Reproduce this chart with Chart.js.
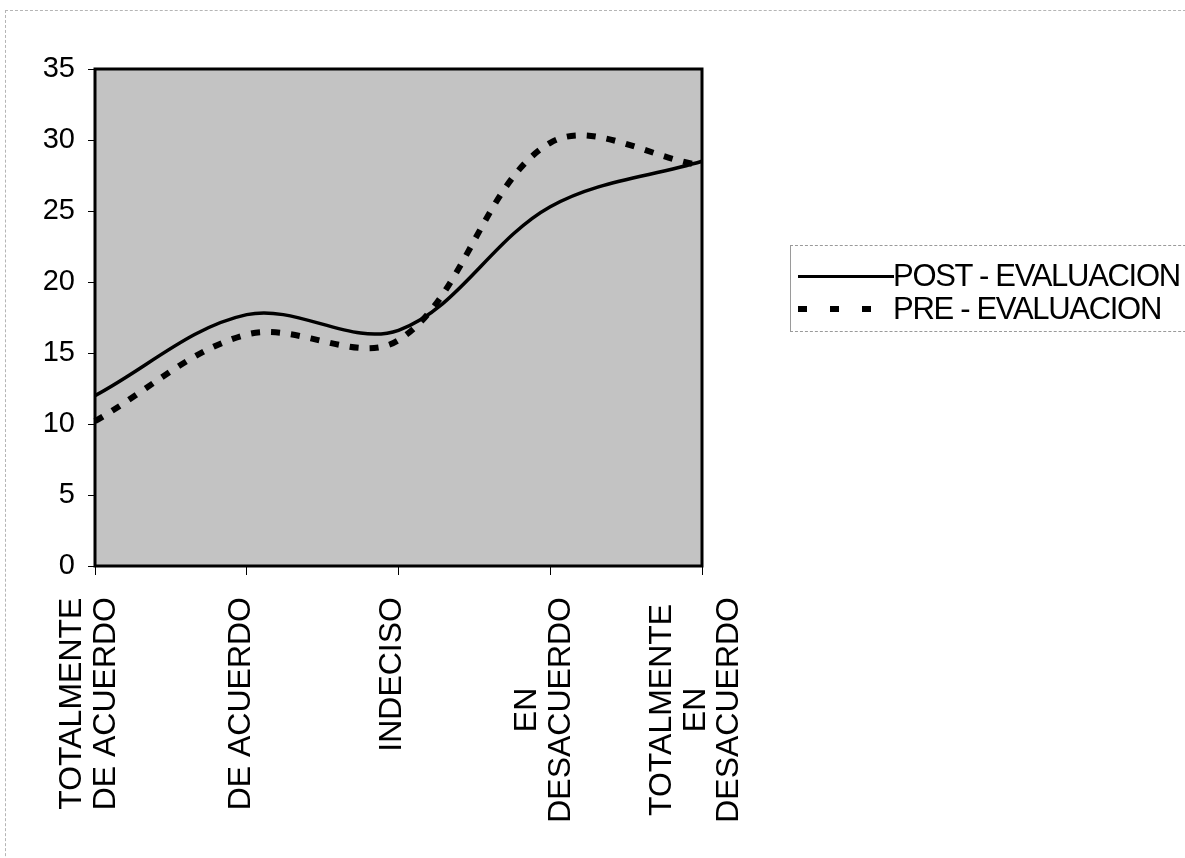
<!DOCTYPE html>
<html><head><meta charset="utf-8">
<script src="https://cdn.jsdelivr.net/npm/chart.js@4.4.0/dist/chart.umd.min.js"></script>
<style>
html,body{margin:0;padding:0;background:#fff;}
#wrap{position:relative;width:1185px;height:858px;overflow:hidden;background:#fff;}
#c{position:absolute;left:0;top:0;}
#frame{position:absolute;left:5px;top:10px;width:1200px;height:900px;border-top:1px dashed #b5b5b5;border-left:1px dashed #b5b5b5;}
#legend{position:absolute;left:790px;top:245px;width:420px;height:85px;border-top:1px dashed #9a9a9a;border-left:1px solid #9a9a9a;border-bottom:1px dashed #9a9a9a;font-family:"Liberation Sans",Arial,sans-serif;font-size:31px;color:#000;}
.row{position:absolute;left:0;width:420px;height:34px;}
.sw{position:absolute;left:7px;}
.lbl{position:absolute;left:102px;top:0;line-height:34px;white-space:nowrap;letter-spacing:-1.3px;}
</style></head>
<body>
<div id="wrap">
  <div id="frame"></div>
  <canvas id="c" width="1185" height="858"></canvas>
  <div id="legend">
    <div class="row" style="top:13px;">
      <div class="sw" style="top:16px;width:96px;height:3px;background:#000;"></div>
      <div class="lbl" id="l0"></div>
    </div>
    <div class="row" style="top:46px;">
      <div class="sw" style="top:14px;width:75px;height:6px;background:repeating-linear-gradient(to right,#000 0 9px,transparent 9px 32px);"></div>
      <div class="lbl" id="l1"></div>
    </div>
  </div>
</div>
<script>
const categories = [["TOTALMENTE","DE ACUERDO"], "DE ACUERDO", "INDECISO", ["EN","DESACUERDO"], ["TOTALMENTE","EN","DESACUERDO"]];
const seriesNames = ["POST - EVALUACION", "PRE - EVALUACION"];
const postValues = [12.0, 17.7, 16.6, 25.3, 28.5];
const preValues = [10.2, 16.3, 15.9, 29.8, 28.2];
const yMin = 0, yMax = 35, yStep = 5;

document.getElementById('l0').textContent = seriesNames[0];
document.getElementById('l1').textContent = seriesNames[1];

const FONT = '"Liberation Sans", Arial, sans-serif';

const plotFrame = {
  id: 'plotFrame',
  beforeDraw(chart) {
    const {ctx, chartArea: a} = chart;
    ctx.save();
    ctx.fillStyle = '#c3c3c3';
    ctx.fillRect(a.left, a.top, a.right - a.left, a.bottom - a.top);
    ctx.restore();
  },
  afterDatasetsDraw(chart) {
    const {ctx, chartArea: a} = chart;
    ctx.save();
    ctx.strokeStyle = '#000';
    ctx.lineWidth = 3;
    ctx.strokeRect(a.left, a.top, a.right - a.left, a.bottom - a.top);
    ctx.restore();
  }
};

// Center multi-line rotated category labels on their tick, lines centred on each other,
// block's top edge kept just below the tick marks.
const labelLayout = {
  id: 'labelLayout',
  beforeDraw(chart) {
    const s = chart.scales.x;
    const items = s.getLabelItems(chart.chartArea);
    const ctx = chart.ctx;
    items.forEach(it => {
      if (it._adj) return;
      const lines = Array.isArray(it.label) ? it.label : [it.label];
      ctx.save();
      ctx.font = it.font.string;
      const w = Math.max(...lines.map(l => ctx.measureText(l).width));
      ctx.restore();
      const lh = it.font.lineHeight;
      const t = it.options.translation;
      it.options.textAlign = 'center';
      it.options.translation = [t[0] - (lines.length - 1) * lh / 2 - 6, t[1] + w / 2];
      it._adj = true;
    });
  }
};

new Chart(document.getElementById('c'), {
  type: 'line',
  data: {
    labels: categories,
    datasets: [
      {
        label: seriesNames[0],
        data: postValues,
        borderColor: '#000',
        borderWidth: 3.5,
        pointRadius: 0,
        tension: 0.35,
        fill: false
      },
      {
        label: seriesNames[1],
        data: preValues,
        borderColor: '#000',
        borderWidth: 6,
        borderDash: [9, 11],
        borderCapStyle: 'butt',
        pointRadius: 0,
        tension: 0.35,
        fill: false
      }
    ]
  },
  options: {
    responsive: false,
    animation: false,
    devicePixelRatio: 1,
    layout: { padding: { top: 69, right: 483, left: 0, bottom: 0 } },
    plugins: { legend: { display: false }, tooltip: { enabled: false } },
    scales: {
      x: {
        type: 'category',
        offset: false,
        border: { display: false },
        grid: { display: true, drawOnChartArea: false, drawTicks: true, tickLength: 9, color: '#000', lineWidth: 1 },
        ticks: {
          color: '#000',
          font: { family: FONT, size: 32, lineHeight: 1.05 },
          padding: 22,
          minRotation: 90,
          maxRotation: 90,
          autoSkip: false
        },
        afterFit(s) { s.height = 292; }
      },
      y: {
        min: yMin,
        max: yMax,
        border: { display: false },
        grid: { display: true, drawOnChartArea: false, drawTicks: true, tickLength: 7, color: '#000', lineWidth: 1 },
        ticks: {
          stepSize: yStep,
          color: '#000',
          font: { family: FONT, size: 29 },
          padding: 13
        },
        afterFit(s) { s.width = 95; }
      }
    }
  },
  plugins: [plotFrame, labelLayout]
});
</script>
</body></html>
